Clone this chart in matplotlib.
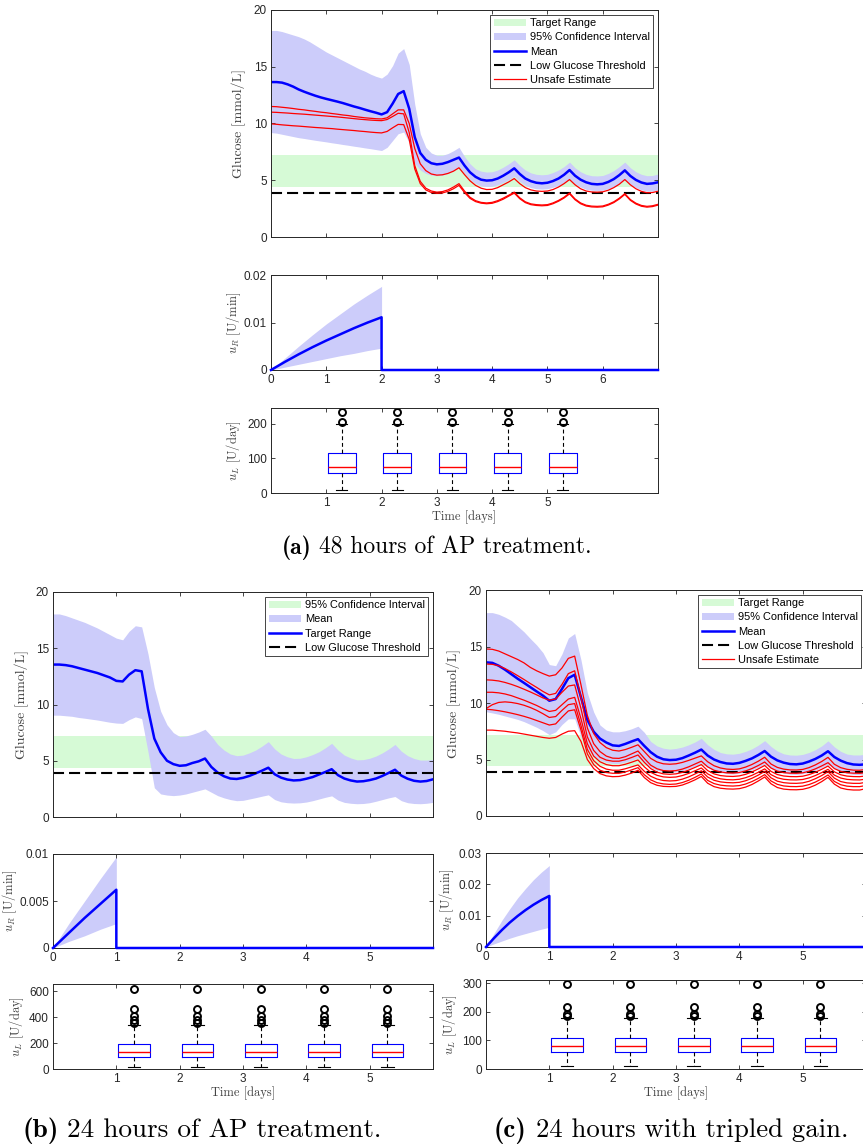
import numpy as np
import matplotlib
matplotlib.use("Agg")
from matplotlib import pyplot as plt

plt.rcParams['font.family'] = ['Liberation Sans', 'DejaVu Sans']
plt.rcParams['mathtext.fontset'] = 'cm'

# ---------------- data ----------------
target_low, target_high = 4.4, 7.2
threshold = 3.9

# (a) 48 hours of AP treatment, sampled every 0.1 day
days_a = np.linspace(0, 7, 71)
mean_a = [13.65, 13.65, 13.6, 13.45, 13.25, 13.0, 12.8, 12.62, 12.45, 12.3,
          12.17, 12.05, 11.93, 11.8, 11.65, 11.5, 11.37, 11.22, 11.08, 10.95,
          10.8, 11.0, 11.75, 12.6, 12.85, 11.3, 8.8, 7.4, 6.8, 6.5,
          6.4, 6.45, 6.6, 6.8, 7.0, 6.3, 5.7, 5.3, 5.05, 4.97,
          5.0, 5.15, 5.4, 5.7, 6.05, 5.55, 5.15, 4.92, 4.78, 4.73,
          4.78, 4.93, 5.15, 5.48, 5.9, 5.4, 5.05, 4.82, 4.68, 4.64,
          4.68, 4.85, 5.1, 5.45, 5.87, 5.38, 5.03, 4.8, 4.68, 4.72,
          4.82]
upper_a = [18.2, 18.2, 18.1, 17.95, 17.8, 17.65, 17.45, 17.2, 16.9, 16.6,
           16.3, 16.05, 15.8, 15.55, 15.3, 15.05, 14.8, 14.6, 14.35, 14.15,
           14.0, 14.35, 15.1, 16.2, 16.6, 15.2, 11.7, 9.1, 7.9, 7.4,
           7.2, 7.2, 7.35, 7.6, 7.9, 7.1, 6.45, 6.0, 5.8, 5.72,
           5.75, 5.9, 6.15, 6.45, 6.8, 6.3, 5.9, 5.65, 5.52, 5.48,
           5.52, 5.68, 5.9, 6.2, 6.6, 6.1, 5.75, 5.52, 5.4, 5.38,
           5.42, 5.6, 5.85, 6.2, 6.6, 6.1, 5.75, 5.52, 5.4, 5.42,
           5.55]
lower_a = [9.2, 9.15, 9.05, 8.95, 8.85, 8.75, 8.68, 8.6, 8.52, 8.45,
           8.38, 8.3, 8.23, 8.15, 8.08, 8.0, 7.93, 7.85, 7.78, 7.7,
           7.62, 7.9, 8.5, 9.1, 9.25, 8.3, 6.5, 5.9, 5.6, 5.45,
           5.4, 5.45, 5.6, 5.85, 6.2, 5.6, 5.05, 4.72, 4.5, 4.45,
           4.47, 4.6, 4.8, 5.05, 5.35, 4.9, 4.55, 4.35, 4.25, 4.22,
           4.25, 4.38, 4.55, 4.8, 5.1, 4.7, 4.4, 4.2, 4.12, 4.1,
           4.12, 4.25, 4.45, 4.7, 5.05, 4.65, 4.35, 4.15, 4.05, 4.05,
           4.15]
unsafe_a1 = [11.5, 11.48, 11.43, 11.38, 11.32, 11.25, 11.2, 11.13, 11.07, 11.0,
             10.95, 10.88, 10.82, 10.75, 10.7, 10.62, 10.56, 10.5, 10.46, 10.42,
             10.4, 10.5, 10.85, 11.2, 11.2, 10.0, 7.8, 6.45, 5.85, 5.55,
             5.45, 5.48, 5.6, 5.8, 6.1, 5.5, 4.95, 4.55, 4.3, 4.18,
             4.2, 4.35, 4.6, 4.85, 5.15, 4.7, 4.35, 4.15, 4.05, 4.02,
             4.05, 4.18, 4.4, 4.7, 5.06, 4.6, 4.25, 4.05, 3.97, 3.95,
             3.98, 4.12, 4.35, 4.65, 5.06, 4.6, 4.25, 4.02, 3.9, 3.92,
             4.03]
unsafe_a2 = [11.0, 10.98, 10.95, 10.92, 10.88, 10.85, 10.82, 10.78, 10.74, 10.7,
             10.66, 10.62, 10.58, 10.53, 10.48, 10.43, 10.38, 10.34, 10.3, 10.27,
             10.25, 10.35, 10.62, 10.9, 10.85, 9.2, 6.3, 4.9, 4.3, 4.05,
             3.95, 4.0, 4.15, 4.4, 4.7, 4.05, 3.5, 3.2, 3.05, 3.0,
             3.05, 3.2, 3.42, 3.68, 3.95, 3.45, 3.1, 2.92, 2.85, 2.82,
             2.85, 3.0, 3.22, 3.5, 3.88, 3.35, 3.0, 2.8, 2.72, 2.7,
             2.73, 2.88, 3.1, 3.42, 3.82, 3.3, 2.98, 2.78, 2.7, 2.75,
             2.88]
unsafe_a3 = [9.97, 9.93, 9.88, 9.84, 9.8, 9.77, 9.73, 9.69, 9.65, 9.62,
             9.58, 9.55, 9.5, 9.46, 9.42, 9.38, 9.33, 9.29, 9.24, 9.2,
             9.17, 9.3, 9.62, 9.92, 9.9, 8.6, 6.0, 4.7, 4.15, 3.92,
             3.85, 3.88, 4.02, 4.25, 4.55, 3.92, 3.4, 3.12, 2.98, 2.93,
             2.97, 3.12, 3.33, 3.6, 3.87, 3.37, 3.03, 2.85, 2.78, 2.75,
             2.78, 2.93, 3.15, 3.43, 3.8, 3.28, 2.93, 2.73, 2.65, 2.63,
             2.66, 2.81, 3.03, 3.35, 3.75, 3.23, 2.91, 2.71, 2.63, 2.68,
             2.81]

ur_a_t = [0, 0.25, 0.5, 0.75, 1.0, 1.25, 1.5, 1.75, 2.0]
ur_a_mean = [0, 0.0017, 0.0033, 0.0048, 0.0062, 0.0075, 0.0088, 0.0100, 0.0111]
ur_a_hi = [0, 0.0025, 0.0050, 0.0074, 0.0097, 0.0118, 0.0139, 0.0158, 0.0176]
ur_a_lo = [0, 0.0006, 0.0012, 0.0018, 0.0024, 0.0030, 0.0035, 0.0041, 0.0046]

ul_a = dict(whislo=10, q1=57, med=75, q3=116, whishi=200)
ul_a_fliers = [206, 233]

# (b) 24 hours of AP treatment
days_b = np.linspace(0, 6, 61)
mean_b = [13.55, 13.55, 13.5, 13.4, 13.25, 13.1, 12.95, 12.8, 12.6, 12.4,
          12.1, 12.05, 12.65, 13.05, 12.95, 9.6, 6.97, 5.75, 5.0, 4.7,
          4.55, 4.6, 4.8, 4.95, 5.2, 4.45, 3.95, 3.62, 3.42, 3.38,
          3.48, 3.65, 3.88, 4.12, 4.38, 3.8, 3.5, 3.33, 3.25, 3.28,
          3.4, 3.55, 3.78, 4.0, 4.25, 3.72, 3.42, 3.25, 3.15, 3.18,
          3.28, 3.42, 3.65, 3.92, 4.2, 3.68, 3.4, 3.22, 3.15, 3.2,
          3.35]
upper_b = [18.05, 18.05, 17.9, 17.7, 17.5, 17.3, 17.05, 16.8, 16.5, 16.2,
           15.9, 15.75, 16.5, 17.0, 16.9, 14.5, 11.5, 9.4, 8.2, 7.5,
           7.15, 7.2, 7.35, 7.55, 7.8, 7.2, 6.45, 5.95, 5.6, 5.45,
           5.5, 5.7, 5.95, 6.3, 6.7, 6.05, 5.6, 5.35, 5.2, 5.22,
           5.35, 5.55, 5.8, 6.15, 6.55, 5.95, 5.5, 5.25, 5.08, 5.1,
           5.22, 5.42, 5.7, 6.05, 6.45, 5.85, 5.45, 5.2, 5.06, 5.06,
           5.12]
lower_b = [9.05, 9.05, 9.0, 8.95, 8.85, 8.78, 8.7, 8.62, 8.52, 8.42,
           8.35, 8.32, 8.65, 8.9, 8.75, 5.8, 2.6, 2.05, 1.95, 1.9,
           1.95, 2.05, 2.2, 2.35, 2.5, 2.2, 1.9, 1.7, 1.55, 1.45,
           1.48, 1.6, 1.72, 1.85, 1.97, 1.55, 1.35, 1.27, 1.24, 1.26,
           1.33, 1.45, 1.6, 1.75, 1.88, 1.5, 1.3, 1.22, 1.18, 1.2,
           1.27, 1.4, 1.55, 1.7, 1.82, 1.45, 1.27, 1.2, 1.18, 1.22,
           1.3]

ur_b_t = [0, 0.25, 0.5, 0.75, 1.0]
ur_b_mean = [0, 0.0016, 0.0032, 0.0047, 0.0062]
ur_b_hi = [0, 0.0026, 0.0050, 0.0074, 0.0097]
ur_b_lo = [0, 0.0007, 0.0013, 0.0020, 0.0026]

ul_b = dict(whislo=15, q1=90, med=128, q3=195, whishi=341)
ul_b_fliers = [355, 378, 405, 465, 620]

# (c) 24 hours with tripled gain
days_c = np.linspace(0, 6, 61)
mean_c = [13.6, 13.55, 13.3, 12.95, 12.55, 12.15, 11.78, 11.4, 11.02, 10.65,
          10.2, 10.35, 11.25, 12.2, 12.5, 10.5, 8.5, 7.46, 6.85, 6.5,
          6.25, 6.2, 6.38, 6.6, 6.8, 6.2, 5.65, 5.25, 5.02, 4.95,
          4.98, 5.12, 5.35, 5.6, 5.88, 5.35, 5.0, 4.78, 4.65, 4.62,
          4.7, 4.88, 5.1, 5.4, 5.75, 5.25, 4.92, 4.72, 4.6, 4.57,
          4.64, 4.82, 5.05, 5.35, 5.73, 5.22, 4.9, 4.68, 4.56, 4.53,
          4.58]
upper_c = [18.0, 18.0, 17.85, 17.6, 17.3, 16.8, 16.3, 15.7, 15.13, 14.45,
           13.4, 13.3, 14.35, 15.75, 16.15, 13.8, 10.9, 9.2, 8.05, 7.6,
           7.45, 7.45, 7.55, 7.72, 7.95, 7.4, 6.6, 6.2, 6.0, 5.92,
           5.98, 6.1, 6.3, 6.55, 6.87, 6.3, 5.9, 5.62, 5.5, 5.47,
           5.55, 5.72, 5.95, 6.27, 6.67, 6.15, 5.75, 5.5, 5.4, 5.38,
           5.45, 5.62, 5.87, 6.2, 6.65, 6.12, 5.72, 5.48, 5.4, 5.4,
           5.48]
lower_c = [9.23, 9.12, 9.0, 8.85, 8.7, 8.55, 8.35, 8.1, 7.85, 7.55,
           7.2, 7.45, 8.1, 8.6, 8.6, 7.0, 5.9, 5.3, 4.95, 4.75,
           4.65, 4.65, 4.78, 4.95, 5.15, 4.7, 4.3, 4.05, 3.93, 3.88,
           3.9, 4.02, 4.2, 4.42, 4.7, 4.3, 4.0, 3.85, 3.75, 3.72,
           3.78, 3.92, 4.1, 4.32, 4.6, 4.2, 3.95, 3.8, 3.7, 3.68,
           3.74, 3.88, 4.06, 4.3, 4.58, 4.18, 3.93, 3.77, 3.68, 3.66,
           3.7]
unsafe_c1 = [14.78, 14.75, 14.6, 14.35, 14.1, 13.85, 13.55, 13.15, 12.85, 12.6,
             12.38, 12.5, 13.1, 13.95, 14.15, 11.6, 8.9, 7.3, 6.5, 6.05,
             5.82, 5.75, 5.88, 6.08, 6.3, 5.7, 5.1, 4.78, 4.62, 4.58,
             4.62, 4.74, 4.92, 5.12, 5.32, 4.8, 4.45, 4.25, 4.15, 4.12,
             4.17, 4.33, 4.56, 4.85, 5.2, 4.6, 4.3, 4.15, 4.08, 4.07,
             4.12, 4.28, 4.52, 4.82, 5.19, 4.58, 4.28, 4.13, 4.06, 4.05,
             4.12]
unsafe_c2 = [13.45, 13.42, 13.3, 13.05, 12.75, 12.42, 12.08, 11.72, 11.38, 11.02,
             10.72, 10.85, 11.65, 12.6, 12.85, 10.5, 7.8, 6.4, 5.7, 5.3,
             5.12, 5.1, 5.25, 5.5, 5.75, 5.1, 4.5, 4.18, 4.02, 3.98,
             4.02, 4.15, 4.35, 4.6, 4.85, 4.35, 4.05, 3.9, 3.82, 3.8,
             3.85, 3.99, 4.2, 4.47, 4.78, 4.25, 3.97, 3.84, 3.79, 3.78,
             3.82, 3.96, 4.17, 4.43, 4.72, 4.2, 3.95, 3.83, 3.79, 3.78,
             3.83]
unsafe_c3 = [12.05, 12.02, 11.95, 11.82, 11.65, 11.45, 11.22, 10.98, 10.72, 10.45,
             10.25, 10.35, 10.95, 11.5, 11.6, 9.5, 7.0, 5.8, 5.2, 4.95,
             4.85, 4.85, 4.98, 5.18, 5.4, 4.75, 4.2, 3.88, 3.73, 3.69,
             3.73, 3.86, 4.06, 4.3, 4.55, 4.02, 3.73, 3.58, 3.52, 3.5,
             3.55, 3.69, 3.9, 4.17, 4.47, 3.95, 3.67, 3.54, 3.49, 3.48,
             3.52, 3.66, 3.87, 4.13, 4.42, 3.91, 3.65, 3.53, 3.49, 3.48,
             3.55]
unsafe_c4 = [10.95, 10.95, 10.9, 10.8, 10.65, 10.45, 10.25, 10.02, 9.78, 9.5,
             9.25, 9.35, 9.85, 10.35, 10.5, 8.6, 6.4, 5.3, 4.8, 4.55,
             4.45, 4.45, 4.58, 4.76, 4.96, 4.35, 3.87, 3.6, 3.46, 3.42,
             3.45, 3.58, 3.77, 4.0, 4.25, 3.73, 3.44, 3.29, 3.22, 3.2,
             3.25, 3.39, 3.6, 3.87, 4.17, 3.66, 3.38, 3.25, 3.2, 3.19,
             3.23, 3.37, 3.58, 3.84, 4.13, 3.62, 3.36, 3.24, 3.2, 3.19,
             3.26]
unsafe_c5 = [9.5, 9.85, 10.05, 10.1, 10.05, 9.95, 9.8, 9.6, 9.35, 9.05,
             8.72, 8.8, 9.35, 9.85, 9.95, 8.0, 5.9, 4.9, 4.4, 4.15,
             4.05, 4.05, 4.18, 4.35, 4.52, 3.95, 3.52, 3.27, 3.14, 3.1,
             3.13, 3.26, 3.46, 3.72, 4.0, 3.45, 3.16, 3.02, 2.96, 2.94,
             2.98, 3.12, 3.34, 3.62, 3.95, 3.38, 3.08, 2.95, 2.9, 2.89,
             2.93, 3.07, 3.3, 3.58, 3.92, 3.35, 3.05, 2.93, 2.89, 2.89,
             2.98]
unsafe_c6 = [9.45, 9.4, 9.32, 9.22, 9.1, 8.97, 8.82, 8.65, 8.45, 8.25,
             8.05, 8.15, 8.75, 9.3, 9.4, 7.6, 5.5, 4.55, 4.05, 3.85,
             3.78, 3.78, 3.9, 4.08, 4.28, 3.65, 3.2, 2.95, 2.84, 2.8,
             2.83, 2.96, 3.16, 3.42, 3.72, 3.15, 2.87, 2.73, 2.67, 2.65,
             2.69, 2.83, 3.05, 3.33, 3.66, 3.1, 2.8, 2.66, 2.61, 2.6,
             2.64, 2.78, 3.0, 3.29, 3.63, 3.06, 2.77, 2.64, 2.6, 2.6,
             2.7]
unsafe_c7 = [7.6, 7.6, 7.55, 7.5, 7.42, 7.35, 7.25, 7.15, 7.05, 6.95,
             6.88, 6.95, 7.25, 7.5, 7.55, 6.6, 5.0, 4.2, 3.75, 3.55,
             3.48, 3.5, 3.62, 3.8, 4.05, 3.4, 2.95, 2.72, 2.62, 2.6,
             2.62, 2.74, 2.95, 3.2, 3.5, 2.9, 2.6, 2.46, 2.4, 2.38,
             2.42, 2.56, 2.79, 3.1, 3.45, 2.85, 2.52, 2.38, 2.33, 2.32,
             2.36, 2.5, 2.73, 3.04, 3.42, 2.82, 2.48, 2.35, 2.3, 2.3,
             2.42]

ur_c_t = [0, 0.125, 0.25, 0.375, 0.5, 0.625, 0.75, 0.875, 1.0]
ur_c_mean = [0, 0.0028, 0.0054, 0.0078, 0.0099, 0.0118, 0.0135, 0.0150, 0.0163]
ur_c_hi = [0, 0.0043, 0.0085, 0.0122, 0.0157, 0.0187, 0.0215, 0.0239, 0.0260]
ur_c_lo = [0, 0.0010, 0.0019, 0.0028, 0.0036, 0.0043, 0.0050, 0.0057, 0.0063]

ul_c = dict(whislo=10, q1=58, med=82, q3=108, whishi=179)
ul_c_fliers = [187, 193, 217, 298]

box_pos = [1.28, 2.28, 3.28, 4.28, 5.28]

labels_ok = ['Target Range', '95% Confidence Interval', 'Mean',
             'Low Glucose Threshold', 'Unsafe Estimate']
labels_b = ['95% Confidence Interval', 'Mean', 'Target Range',
            'Low Glucose Threshold']

# ---------------- drawing ----------------
GREEN = '#d6fad6'
LAVENDER = '#ccccfa'
BLUE = '#0000ff'
RED = '#ff0000'
AXC = '#262626'
LABC = '#404040'
SERIF = ['cmr10', 'DejaVu Serif']

W, H = 863, 1148
fig = plt.figure(figsize=(W / 100, H / 100), dpi=100)


def add_box(x0, y0, x1, y1):
    return fig.add_axes([x0 / W, 1 - y1 / H, (x1 - x0) / W, (y1 - y0) / H])


def style(ax):
    ax.tick_params(direction='in', top=True, right=True, length=3, width=0.6,
                   colors=AXC, labelsize=8.5, pad=3)
    for s in ax.spines.values():
        s.set_color(AXC)
        s.set_linewidth(0.7)


def glucose(ax, t, mean, lo, hi, reds, labels, tmax, lx):
    ax.fill_between(t, target_low, target_high, color=GREEN, lw=0, label=labels[0])
    ax.fill_between(t, lo, hi, color=LAVENDER, lw=0, label=labels[1])
    ax.plot(t, mean, color=BLUE, lw=1.8, label=labels[2])
    ax.axhline(threshold, color='k', lw=1.5, dashes=(5.3, 2.4), label=labels[3])
    for i, r in enumerate(reds):
        ax.plot(t, r, color=RED, lw=0.9, label=labels[4] if i == 0 else None)
    ax.set_xlim(0, tmax)
    ax.set_ylim(0, 20)
    ax.set_xticks(range(0, tmax + 1))
    ax.set_xticklabels([])
    ax.set_yticks([0, 5, 10, 15, 20])
    style(ax)
    ax.set_ylabel('Glucose [mmol/L]', family=SERIF, fontsize=10, color=LABC)
    ax.yaxis.set_label_coords(lx, 0.5)
    leg = ax.legend(loc='upper right', fontsize=7.9, frameon=True, fancybox=False,
                    edgecolor=AXC, framealpha=1, borderaxespad=0.45,
                    handlelength=3.0, labelspacing=0.38, borderpad=0.3,
                    handletextpad=0.3)
    leg.get_frame().set_linewidth(0.6)


def insulin_rate(ax, t, mean, lo, hi, tmax, yticks, ylabels, lx):
    ax.fill_between(t, lo, hi, color=LAVENDER, lw=0)
    ax.plot(t + [t[-1], tmax], mean + [0, 0], color=BLUE, lw=1.8,
            clip_on=False, zorder=5)
    ax.set_xlim(0, tmax)
    ax.set_ylim(yticks[0], yticks[-1])
    ax.set_xticks(range(0, 7 if tmax == 7 else 6))
    ax.set_yticks(yticks)
    ax.set_yticklabels(ylabels)
    style(ax)
    ax.set_ylabel(r'$u_R$ [U/min]', family=SERIF, fontsize=9, color=LABC)
    ax.yaxis.set_label_coords(lx, 0.5)


def insulin_long(ax, stats, fliers, tmax, ymax, yticks, lx):
    st = [dict(stats, fliers=fliers) for _ in box_pos]
    ax.bxp(st, positions=box_pos, widths=0.5, capwidths=0.2, manage_ticks=False,
           boxprops=dict(color=BLUE, lw=0.8),
           medianprops=dict(color=RED, lw=1.0),
           whiskerprops=dict(color='k', lw=0.8, ls=(0, (3.5, 2.5))),
           capprops=dict(color='k', lw=0.8),
           flierprops=dict(marker='o', mfc='none', mec='k', ms=5, mew=1.4))
    ax.set_xlim(0, tmax)
    ax.set_ylim(0, ymax)
    ax.set_xticks([1, 2, 3, 4, 5])
    ax.set_yticks(yticks)
    style(ax)
    ax.set_ylabel(r'$u_L$ [U/day]', family=SERIF, fontsize=9, color=LABC)
    ax.yaxis.set_label_coords(lx, 0.5)
    ax.set_xlabel('Time [days]', family=SERIF, fontsize=9, color=LABC, labelpad=1)


def caption(cx, cy, tag, rest, size):
    t1 = fig.text(0, 1 - cy / H, tag, family=['cmb10', 'DejaVu Serif'],
                  fontsize=size, va='baseline')
    t2 = fig.text(0, 1 - cy / H, rest, family=SERIF, fontsize=size, va='baseline')
    fig.canvas.draw()
    w1 = t1.get_window_extent().width
    w2 = t2.get_window_extent().width
    gap = size * 0.33 * 100 / 72
    x0 = cx - (w1 + gap + w2) / 2
    t1.set_x(x0 / W)
    t2.set_x((x0 + w1 + gap) / W)


# (a)
ax = add_box(271, 10, 658, 237)
glucose(ax, days_a, mean_a, lower_a, upper_a, [unsafe_a1, unsafe_a2, unsafe_a3],
        labels_ok, 7, -0.065)
ax = add_box(271, 275, 658, 370)
insulin_rate(ax, ur_a_t, ur_a_mean, ur_a_lo, ur_a_hi, 7,
             [0, 0.01, 0.02], ['0', '0.01', '0.02'], -0.072)
ax = add_box(271, 408, 658, 493)
insulin_long(ax, ul_a, ul_a_fliers, 7, 245, [0, 100, 200], -0.072)

# (b)
ax = add_box(53, 592, 433, 817)
glucose(ax, days_b, mean_b, lower_b, upper_b, [], labels_b, 6, -0.063)
ax = add_box(53, 854, 433, 948)
insulin_rate(ax, ur_b_t, ur_b_mean, ur_b_lo, ur_b_hi, 6,
             [0, 0.005, 0.01], ['0', '0.005', '0.01'], -0.089)
ax = add_box(53, 984, 433, 1069)
insulin_long(ax, ul_b, ul_b_fliers, 6, 655, [0, 200, 400, 600], -0.071)

# (c)
ax = add_box(486, 590, 866, 816)
glucose(ax, days_c, mean_c, lower_c, upper_c,
        [unsafe_c1, unsafe_c2, unsafe_c3, unsafe_c4, unsafe_c5, unsafe_c6, unsafe_c7],
        labels_ok, 6, -0.066)
ax = add_box(486, 853, 866, 947)
insulin_rate(ax, ur_c_t, ur_c_mean, ur_c_lo, ur_c_hi, 6,
             [0, 0.01, 0.02, 0.03], ['0', '0.01', '0.02', '0.03'], -0.079)
ax = add_box(486, 980, 866, 1069)
insulin_long(ax, ul_c, ul_c_fliers, 6, 312, [0, 100, 200, 300], -0.071)

# captions
caption(437, 554, '(a)', '48 hours of AP treatment.', 17)
caption(202, 1137, '(b)', '24 hours of AP treatment.', 19.6)
caption(671, 1137, '(c)', '24 hours with tripled gain.', 19.3)

fig.savefig('out.png', dpi=100)
